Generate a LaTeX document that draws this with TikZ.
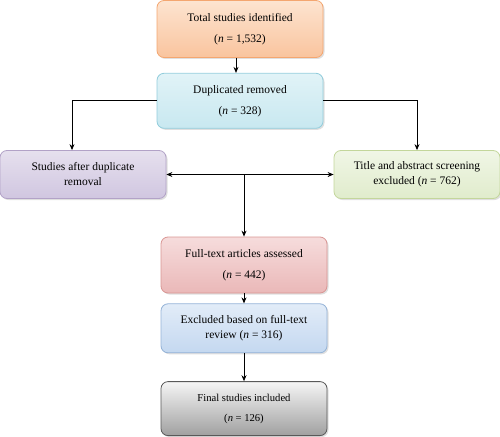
\documentclass[tikz,border=0pt]{standalone}
\usepackage{fontspec}
\setmainfont{Liberation Serif}
\usetikzlibrary{positioning, arrows.meta, shadows}
\definecolor{OrangeTop}{RGB}{253,228,208}
\definecolor{OrangeBot}{RGB}{249,196,158}
\definecolor{OrangeLine}{RGB}{244,166,112}
\definecolor{CyanTop}{RGB}{225,243,247}
\definecolor{CyanBot}{RGB}{200,232,240}
\definecolor{CyanLine}{RGB}{146,205,220}
\definecolor{PurpleTop}{RGB}{230,224,238}
\definecolor{PurpleBot}{RGB}{208,198,224}
\definecolor{PurpleLine}{RGB}{178,162,199}
\definecolor{GreenTop}{RGB}{240,246,230}
\definecolor{GreenBot}{RGB}{224,236,204}
\definecolor{GreenLine}{RGB}{195,214,155}
\definecolor{RedTop}{RGB}{246,220,220}
\definecolor{RedBot}{RGB}{234,184,184}
\definecolor{RedLine}{RGB}{217,150,148}
\definecolor{BlueTop}{RGB}{226,236,248}
\definecolor{BlueBot}{RGB}{196,216,240}
\definecolor{BlueLine}{RGB}{149,179,215}
\definecolor{GrayTop}{RGB}{245,245,245}
\definecolor{GrayBot}{RGB}{160,160,160}
\definecolor{GrayLine}{RGB}{89,89,89}
\tikzset{
    flowbox/.style={
        draw, rounded corners=7pt, minimum width=166pt, align=center,
        line width=0.8pt, font=\fontsize{11.5}{15}\selectfont,
        drop shadow={opacity=0.25, shadow xshift=1.5pt, shadow yshift=-1.5pt}
    },
    ptr/.style={
        ->, >={Stealth[length=6pt, width=5pt]}, line width=0.8pt, black
    },
    bothptr/.style={
        ptr, <->
    }
}
\begin{document}
\begin{tikzpicture}[x=1pt, y=1pt]
    \useasboundingbox (0,0) rectangle (500,-436);

    % --- hop tren ---
    \node[flowbox, top color=OrangeTop, bottom color=OrangeBot, draw=OrangeLine, minimum height=57pt]
        (total) at (240,-29) {Total studies identified\\[6pt] (\textit{n} = 1,532)};
    \node[flowbox, top color=CyanTop, bottom color=CyanBot, draw=CyanLine, minimum height=55pt,
        below=15pt of total] (dup) {Duplicated removed\\[6pt] (\textit{n} = 328)};

    % --- hai nhanh ---
    \node[flowbox, top color=PurpleTop, bottom color=PurpleBot, draw=PurpleLine, minimum height=48pt]
        (studies) at (83,-174.5) {Studies after duplicate\\ removal};
    \node[flowbox, top color=GreenTop, bottom color=GreenBot, draw=GreenLine, minimum height=48pt]
        (title) at (417,-174.5) {Title and abstract screening\\ excluded (\textit{n} = 762)};

    % --- hop duoi ---
    \node[flowbox, top color=RedTop, bottom color=RedBot, draw=RedLine, minimum height=56pt]
        (full) at (244,-265) {Full-text articles assessed\\[6pt] (\textit{n} = 442)};
    \node[flowbox, top color=BlueTop, bottom color=BlueBot, draw=BlueLine, minimum height=49pt,
        below=10pt of full] (excl) {Excluded based on full-text\\ review (\textit{n} = 316)};
    \node[flowbox, top color=GrayTop, bottom color=GrayBot, draw=GrayLine, minimum height=54pt,
        font=\fontsize{10.6}{14}\selectfont, below=28pt of excl]
        (final) {Final studies included\\[6pt] (\textit{n} = 126)};

    % Mui ten
    \draw[ptr] ([xshift=-4pt]total.south) -- ([xshift=-4pt]dup.north);
    \draw[ptr] (dup.west) -| ([xshift=-11pt]studies.north);
    \draw[ptr] (dup.east) -| (title.north);
    \draw[bothptr] (studies.east) -- (title.west);
    \draw[ptr] (studies.east -| full.north) -- (full.north);
    \draw[ptr] (full) -- (excl);
    \draw[ptr] (excl) -- (final);
\end{tikzpicture}
\end{document}
